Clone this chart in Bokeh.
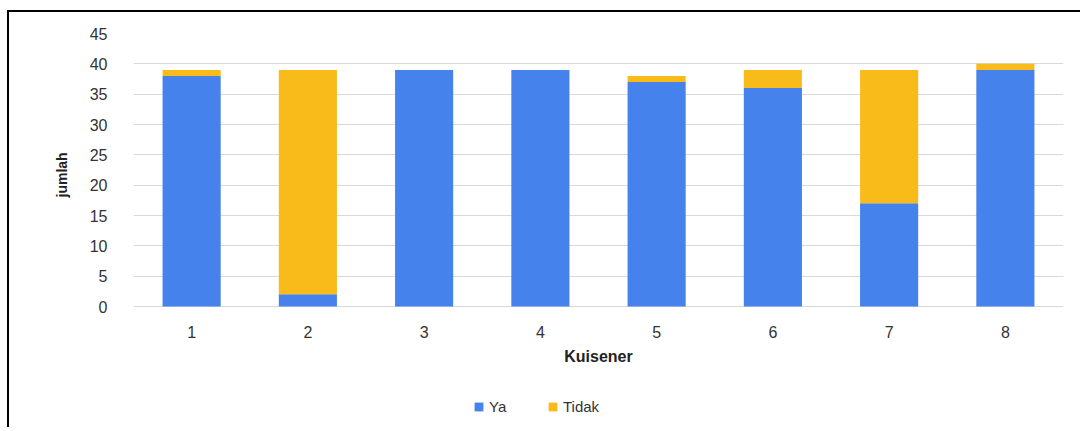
from bokeh.plotting import figure
from bokeh.models import ColumnDataSource, Range1d, FactorRange, FixedTicker, Legend, LegendItem, Title
from bokeh.embed import file_html
from bokeh.resources import INLINE

categories = ["1", "2", "3", "4", "5", "6", "7", "8"]
ya = [38, 2, 39, 39, 37, 36, 17, 39]
tidak = [1, 37, 0, 0, 1, 3, 22, 1]
y_ticks = [0, 5, 10, 15, 20, 25, 30, 35, 40, 45]
series_names = ["Ya", "Tidak"]
colors = ["#4682ec", "#f8bb1a"]
y_label = "jumlah"
x_label = "Kuisener"

# layout: value axis spans 0..45 over 273 px; extra room below for axis labels + legend
Y_MAX = 45
PX_PER_UNIT = 273 / Y_MAX
Y_MIN = -123 / PX_PER_UNIT

src = ColumnDataSource(dict(cat=categories, Ya=ya, Tidak=tidak))

p = figure(
    x_range=FactorRange(*categories, range_padding=0),
    y_range=Range1d(Y_MIN, Y_MAX),
    width=1073, height=417,
    output_backend="svg", toolbar_location=None,
    margin=(10, 0, 0, 7),
    styles={"border-top": "2px solid #000", "border-left": "2px solid #000",
            "border-right": "0px none", "border-bottom": "0px none"},
    min_border_left=124, min_border_right=19, min_border_top=21, min_border_bottom=0,
)
p.outline_line_color = None
p.background_fill_color = "white"
p.border_fill_color = "white"

rs = p.vbar_stack(series_names, x="cat", width=0.5, color=colors, line_color=None, source=src)

p.xgrid.grid_line_color = None
p.ygrid.grid_line_color = "#d9d9d9"
p.ygrid.ticker = FixedTicker(ticks=y_ticks)
p.yaxis.ticker = FixedTicker(ticks=y_ticks)
p.yaxis.bounds = (0, Y_MAX)
p.xaxis.fixed_location = 0

for ax in (p.xaxis[0], p.yaxis[0]):
    ax.axis_line_color = None
    ax.major_tick_line_color = None
    ax.minor_tick_line_color = None
    ax.major_label_text_font = "Liberation Sans"
    ax.major_label_text_font_size = "16px"
    ax.major_label_text_color = "#333333"
    ax.axis_label_text_font = "Liberation Sans"
    ax.axis_label_text_font_style = "bold"
    ax.axis_label_text_color = "#222222"

p.yaxis.major_label_standoff = 20

# y-axis title placed beside the 0..45 span
ytitle = Title(text=y_label, align="left", offset=232, standoff=34,
               text_font="Liberation Sans", text_font_style="bold",
               text_font_size="14px", text_color="#222222")
p.add_layout(ytitle, "left")

p.xaxis.major_label_standoff = 13
p.xaxis.axis_label = x_label
p.xaxis.axis_label_text_font_size = "16px"
p.xaxis.axis_label_standoff = 7

legend = Legend(
    items=[LegendItem(label=series_names[i], renderers=[rs[i]]) for i in range(2)],
    orientation="horizontal",
    location=(340, 14),
    padding=0, margin=0, spacing=38,
    glyph_width=11, glyph_height=11, label_standoff=5,
    label_text_font="Liberation Sans", label_text_font_size="15px",
    label_text_color="#333333",
    border_line_color=None, background_fill_alpha=0,
)
p.add_layout(legend)

open("out.html", "w").write(file_html(p, INLINE))
